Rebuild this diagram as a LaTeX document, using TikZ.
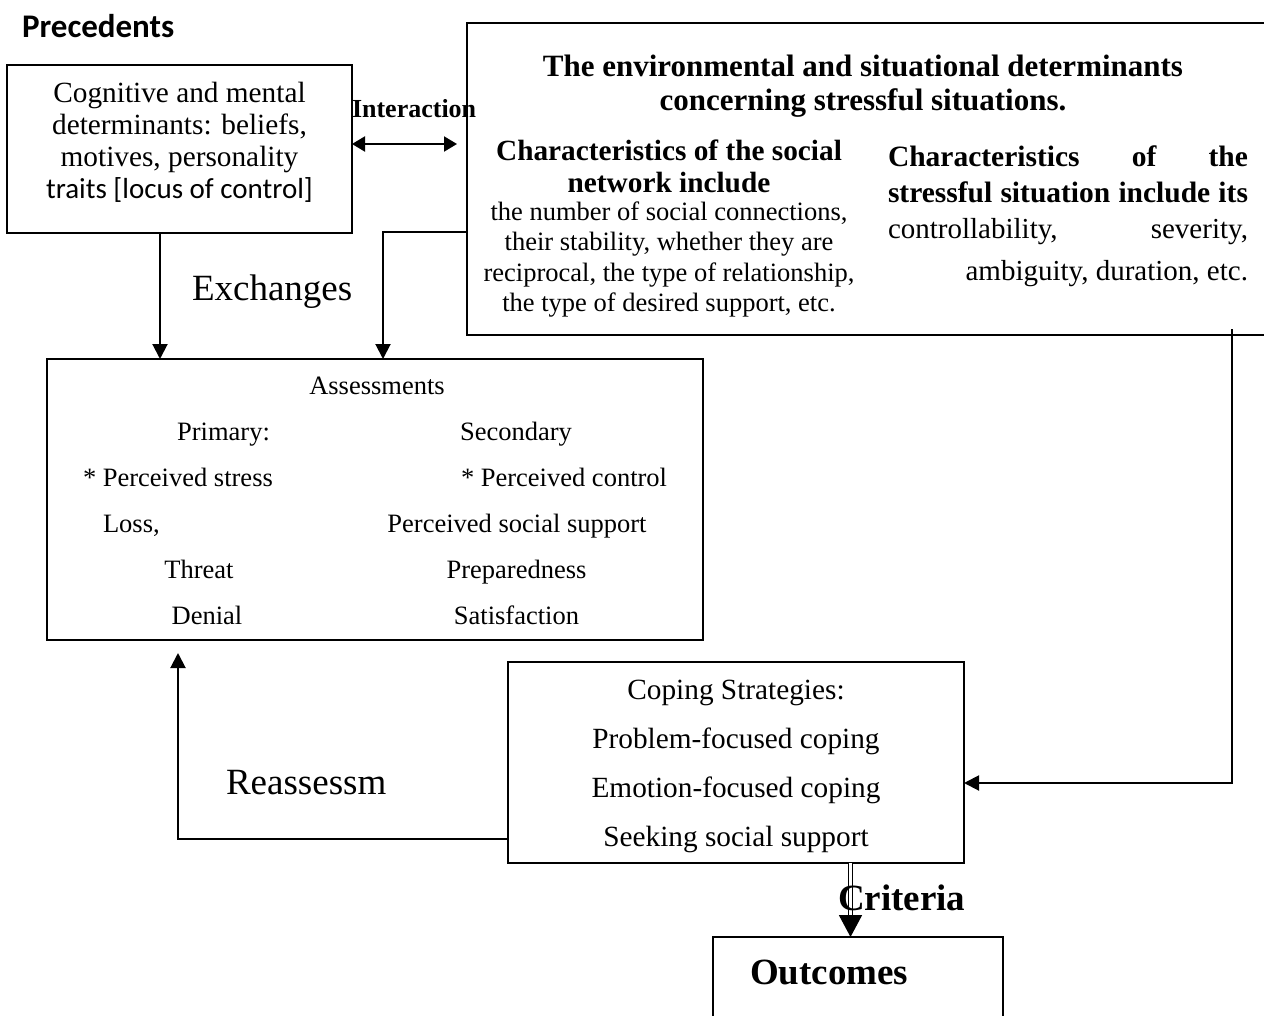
\documentclass[tikz,border=0pt]{standalone}
\usepackage{fontspec}
\setmainfont{Liberation Serif}
\newfontfamily\calibfont{Carlito}
\usetikzlibrary{arrows.meta}
\newcommand\myfs[1]{\fontsize{#1}{#1}\selectfont}
\begin{document}
\begin{tikzpicture}[x=1pt,y=-1pt,
  box/.style={draw, line width=1.5pt, inner sep=0pt, outer sep=0pt, anchor=north west},
  txt/.style={inner sep=0pt, outer sep=0pt, anchor=base},
  txtl/.style={txt, anchor=base west},
  txtr/.style={txt, anchor=base east},
  arr/.style={line width=2pt, -{Triangle[width=15pt,length=15pt]}},
  biarr/.style={line width=2pt, {Triangle[width=15pt,length=13pt]}-{Triangle[width=15pt,length=13pt]}},
  dblarr/.style={line width=1.8pt, double distance=2.2pt, -{Triangle[width=23pt,length=22pt]}}]
\useasboundingbox (0,0) rectangle (1264,1015);
\clip (0,0) rectangle (1264,1015);

% boxes
\node[box, minimum width=345pt, minimum height=168pt] (cog) at (7,65) {};
\node[box, minimum width=900pt, minimum height=312pt] (env) at (467,23) {};
\node[box, minimum width=656pt, minimum height=281pt] (asm) at (47,359) {};
\node[box, minimum width=456pt, minimum height=201pt] (cope) at (508,662) {};
\node[box, minimum width=290pt, minimum height=120pt] (outc) at (713,937) {};

% connectors
\draw[arr] (cog.south -| 160,0) -- (asm.north -| 160,0);
\draw[biarr, shorten >=10pt] (cog.east |- 0,144) -- (env.west |- 0,144);
\draw[arr] (env.west |- 0,232) -| (asm.north -| 383,0);
\draw[arr, shorten <=-6pt] (env.south -| 1232,0) |- (cope.east |- 0,783);
\draw[arr, shorten >=13pt] (cope.west |- 0,839) -| (asm.south -| 178,0);
\draw[dblarr] (cope.south -| 850.5,0) -- (outc.north -| 850.5,0);

% free labels
\node[txtl, font=\calibfont\bfseries\myfs{33}] (prec) at (22,37) {Precedents};
\node[txtl, font=\bfseries\myfs{26}] (inter) at (352,117) {Interaction};
\node[txtl, font=\myfs{37}] (exch) at (192,300) {Exchanges};
\node[txtl, font=\myfs{37}] (reas) at (226,794) {Reassessm};
\node[txtl, font=\bfseries\myfs{37}] (crit) at (838,910) {Criteria};
\node[txtl, font=\bfseries\myfs{37}] (outt) at (750,984) {Outcomes};

% cognitive box text
\node[txt, font=\myfs{29.3}] (c1) at (179.5,102) {Cognitive and mental};
\node[txt, font=\myfs{29.3}] (c2) at (179.5,134) {determinants: beliefs,};
\node[txt, font=\myfs{29.3}] (c3) at (179.5,166) {motives, personality};
\node[txt, font=\calibfont\myfs{29}] (c4) at (179.5,198) {traits [locus of control]};

% environmental box text
\node[txt, font=\bfseries\myfs{31}] (e1) at (863,76) {The environmental and situational determinants};
\node[txt, font=\bfseries\myfs{31}] (e2) at (863,110) {concerning stressful situations.};
\node[txt, font=\bfseries\myfs{29.3}] (e3) at (669,160) {Characteristics of the social};
\node[txt, font=\bfseries\myfs{29.3}] (e4) at (669,192) {network include};
\node[txt, font=\myfs{26.5}] (e5) at (669,220) {the number of social connections,};
\node[txt, font=\myfs{26.5}] (e6) at (669,250.5) {their stability, whether they are};
\node[txt, font=\myfs{26.5}] (e7) at (669,281) {reciprocal, the type of relationship,};
\node[txt, font=\myfs{26.5}] (e8) at (669,311.5) {the type of desired support, etc.};
\node[txtl, font=\bfseries\myfs{29.5}] (e9) at (888,166) {\makebox[360pt][s]{Characteristics\hfill of\hfill the}};
\node[txtl, font=\bfseries\myfs{29.5}] (e10) at (888,202) {\makebox[360pt][s]{stressful situation include its}};
\node[txtl, font=\myfs{29}] (e11) at (888,238) {\makebox[360pt][s]{controllability,\hfill severity,}};
\node[txtr, font=\myfs{29}] (e12) at (1248,280) {ambiguity, duration, etc.};

% assessments text
\node[txt, font=\myfs{26.5}] (a0) at (377,394) {Assessments};
\node[txt, font=\myfs{26.5}] (a1) at (223.5,440) {Primary:};
\node[txt, font=\myfs{26.5}] (a2) at (516,440) {Secondary};
\node[txtl, font=\myfs{26.5}] (a3) at (83,486) {* Perceived stress};
\node[txtl, font=\myfs{26.5}] (a4) at (461,486) {* Perceived control};
\node[txtl, font=\myfs{26.5}] (a5) at (103,532) {Loss,};
\node[txt, font=\myfs{26.5}] (a6) at (517,532) {Perceived social support};
\node[txt, font=\myfs{26.5}] (a7) at (199,578) {Threat};
\node[txt, font=\myfs{26.5}] (a8) at (516.5,578) {Preparedness};
\node[txt, font=\myfs{26.5}] (a9) at (207,624) {Denial};
\node[txt, font=\myfs{26.5}] (a10) at (516.5,624) {Satisfaction};

% coping text
\node[txt, font=\myfs{29.3}] (s0) at (736,699) {Coping Strategies:};
\node[txt, font=\myfs{29.3}] (s1) at (736,748) {Problem-focused coping};
\node[txt, font=\myfs{29.3}] (s2) at (736,797) {Emotion-focused coping};
\node[txt, font=\myfs{29.3}] (s3) at (736,846) {Seeking social support};
\end{tikzpicture}
\end{document}
